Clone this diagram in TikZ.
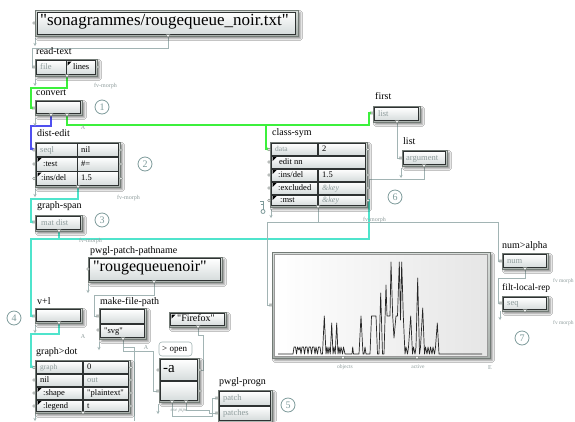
\documentclass[tikz,border=0pt]{standalone}
\usepackage{fontspec}
\setmainfont{Liberation Serif}[Ligatures=TeXOff]
\usetikzlibrary{shadows.blur,arrows.meta,calc}

\definecolor{frameA}{HTML}{D8DDDA}
\definecolor{frameB}{HTML}{A9B0AC}
\definecolor{frameedge}{HTML}{737B76}
\definecolor{cellbot}{HTML}{D6DCDC}
\definecolor{celledge}{HTML}{2E3232}
\definecolor{wire}{HTML}{A2B4B4}
\definecolor{wgreen}{HTML}{3CF03C}
\definecolor{wblue}{HTML}{5050F0}
\definecolor{wteal}{HTML}{4FE4CC}
\definecolor{numc}{HTML}{7E9B9B}
\definecolor{graytxt}{HTML}{8E9C9C}

\tikzset{
 outerbox/.style={top color=frameA, bottom color=frameB, draw=frameedge, line width=0.6pt,
   blur shadow={shadow xshift=2.5pt, shadow yshift=-2.5pt, shadow opacity=45, shadow blur steps=4}},
 cellbox/.style={draw=celledge, line width=0.5pt, top color=white, bottom color=cellbot},
 lab/.style={anchor=mid west, inner sep=0pt, font=\fontsize{10}{10}\selectfont},
 ctext/.style={anchor=mid west, inner sep=0pt, font=\fontsize{8.5}{8.5}\selectfont},
 gtext/.style={ctext, text=graytxt},
 fvm/.style={anchor=mid west, inner sep=0pt, font=\fontsize{6}{6}\selectfont, text=graytxt},
 amark/.style={anchor=center, inner sep=0pt, font=\fontsize{6}{6}\selectfont, text=graytxt},
 wg/.style={draw=wire, line width=0.8pt},
 wgr/.style={draw=wgreen, line width=1.2pt},
 wbl/.style={draw=wblue, line width=1.2pt},
 wtl/.style={draw=wteal, line width=1.2pt},
 arr/.style={-{Stealth[length=3pt,width=3pt]}},
 cnum/.style={circle, draw=numc, line width=0.8pt, minimum size=14pt, inner sep=0pt,
   text=numc, font=\fontsize{10}{10}\selectfont},
}
\newcommand\inl[2]{\draw[draw=frameedge, fill=white, line width=0.4pt] (#1,#2) circle (1.3);}
\newcommand\outl[2]{\draw[draw=frameedge, fill=white, line width=0.4pt] (#1-2,#2-1.5) -- (#1+2,#2-1.5) -- (#1,#2+1.5) -- cycle;}
\newcommand\ctri[2]{\fill (#1,#2) -- ++(4,0) -- ++(-4,4) -- cycle;}
\newcommand\showarr[3]{\draw[wg, arr] (#1,#2) -- (#1,#3);}

\begin{document}
\begin{tikzpicture}[x=1pt, y=-1pt]
\useasboundingbox (0,0) rectangle (575,421);
\clip (0,0) rectangle (575,421);
\fill[white] (0,0) rectangle (575,421);

% ---------- ports ----------
\coordinate (sona-o) at (168,37);
\coordinate (rt-in) at (35,67);
\coordinate (rt-o) at (67,77);
\coordinate (cv-in) at (35,108);
\coordinate (cv-o1) at (51,116);
\coordinate (cv-o2) at (67,116);
\coordinate (de-in) at (35,149);
\coordinate (fi-in) at (373,113);
\coordinate (gbr) at (266,125);
\coordinate (cs-in) at (270,149);
\coordinate (de-o) at (78,188);
\coordinate (gs-in) at (35,222);
\coordinate (gs-o) at (59,232);
\coordinate (cs-mst) at (367,200);
\coordinate (tj) at (31,239);
\coordinate (vl-in) at (35,316);
\coordinate (fi-o) at (397,123);
\coordinate (li-in) at (402,158);
\coordinate (li-o) at (424,167);
\coordinate (cs-exc) at (367,188);
\coordinate (cs-o) at (318,208);
\coordinate (ch-in) at (272,305);
\coordinate (na-in) at (502,261);
\coordinate (na-o) at (525,270);
\coordinate (fl-in) at (502,303);
\coordinate (pp-o) at (154,283);
\coordinate (mf-in) at (99,316);
\coordinate (vl-o) at (59,324);
\coordinate (gd-in) at (35,367);
\coordinate (mf-o) at (123,340);
\coordinate (mf-dn) at (134,421);
\coordinate (op-in2) at (159,391);
\coordinate (ff-o) at (198,328);
\coordinate (op-r1) at (199,370);
\coordinate (op-o1) at (172,403);
\coordinate (op-o2) at (186,403);
\coordinate (pg-in1) at (218,398);
\coordinate (pg-in2) at (218,413);

% ---------- wires ----------
\draw[wg, arr] (sona-o) -- ++(0,11) -| ([xshift=-3pt]rt-in) -- (rt-in);
\draw[wgr, arr] (rt-o) -- ++(0,11) -| ([xshift=-4pt]cv-in) -- (cv-in);
\draw[wbl, arr] (cv-o1) -- ++(0,10) -| ([xshift=-4pt]de-in) -- (de-in);
\draw[wgr, arr] (cv-o2) -- ++(0,9) -| ([xshift=-4pt]fi-in) -- (fi-in);
\draw[wgr, arr] (gbr) |- (cs-in);
\draw[wtl, arr] (de-o) -- ++(0,11) -| ([xshift=-4pt]gs-in) -- (gs-in);
\draw[wtl] (gs-o) -- (gs-o |- tj);
\draw[wtl, arr] (cs-mst) -- ++(2,0) |- (tj) |- (vl-in);
\draw[wg, arr] (fi-o) |- (li-in);
\draw[wg] (li-o) -- ++(0,12) -| ([xshift=2pt]cs-exc) -- (cs-exc);
\draw[wg, arr] (cs-o) -- ++(0,14) -| ([xshift=-5pt]ch-in) -- (ch-in);
\draw[wg, arr] (cs-o) -- ++(0,14) -| ([xshift=-4pt]na-in) -- (na-in);
\draw[wg, arr] (na-o) -- ++(0,8) -| ([xshift=-4pt]fl-in) -- (fl-in);
\draw[wg, arr] (pp-o) -- ++(0,12) -| ([xshift=-5pt]mf-in) -- (mf-in);
\draw[wtl, arr] (vl-o) -- ++(0,10) -| ([xshift=-4pt]gd-in) -- (gd-in);
\draw[wg, arr] (mf-o) -- ++(0,11) -| ([xshift=-6pt]op-in2) -- (op-in2);
\draw[wg] (mf-o) -- ++(0,7) -| (mf-dn);
\draw[wg] (ff-o) -- ++(0,7) -| ([xshift=4pt]op-r1) -- (op-r1);
\draw[wg, arr] (op-o1) -- ++(0,13) -| ([xshift=-6pt]pg-in1) -- (pg-in1);
\draw[wg, arr] (op-o2) -- ++(0,7) -| ([xshift=-9pt]pg-in2) -- (pg-in2);

% show arrows
\showarr{35}{38}{46}
\showarr{35}{79}{86}
\showarr{35}{118}{126}
\showarr{35}{189}{197}
\showarr{271}{209}{218}
\showarr{401}{168}{178}
\showarr{500}{311}{320}
\showarr{88}{284}{293}
\showarr{35}{325}{333}
\showarr{99}{342}{350}
\showarr{158}{404}{414}
\showarr{35}{414}{421}

% ---------- sonagrammes box ----------
\path[outerbox] (35,10) rectangle (298,36);
\path[cellbox] (37,12) rectangle (295.5,34);
\node[anchor=mid west, inner sep=0pt, font=\fontsize{17}{17}\selectfont] (sona) at (40,23) {"sonagrammes/rougequeue\_noir.txt"};
\inl{34}{23} \outl{168}{36}

% ---------- read-text ----------
\node[lab] (l-rt) at (36,52) {read-text};
\path[outerbox] (35,59) rectangle (97,76);
\path[cellbox] (36.5,60.5) rectangle (66,74.5);
\path[cellbox] (66.5,60.5) rectangle (95.5,74.5);
\node[gtext] at (40,67.5) {file};
\ctri{67.5}{61.5}
\node[ctext] at (73,67.5) {lines};
\inl{34}{67} \inl{98}{67} \outl{67}{76}
\node[fvm] at (94,85) {fv-morph};

% ---------- convert ----------
\node[lab] (l-cv) at (36,93) {convert};
\path[outerbox] (35,100) rectangle (82,115);
\path[cellbox] (36.5,101.5) rectangle (80.5,113.5);
\inl{34}{108} \outl{51}{115} \outl{67}{115}
\node[amark] at (83,128) {A};
\node[cnum] at (102,107) {1};

% ---------- dist-edit ----------
\node[lab] (l-de) at (37,134) {dist-edit};
\path[outerbox] (35,142) rectangle (120,187);
\foreach \ya/\yb in {143.5/156.5, 157/171, 171.5/185.5}{
  \path[cellbox] (36.5,\ya) rectangle (77,\yb);
  \path[cellbox] (77.5,\ya) rectangle (118.5,\yb);
}
\node[gtext] at (40,150) {seql};
\node[ctext] at (81,150) {nil};
\ctri{37.5}{158} \node[ctext] at (43,164) {:test};
\node[ctext] at (81,164) {\#=};
\ctri{37.5}{172.5} \node[ctext] at (41,178.5) {:ins/del};
\node[ctext] at (81,178.5) {1.5};
\inl{34}{150} \inl{34}{164} \inl{34}{178.5}
\inl{121}{150} \inl{121}{164} \inl{121}{178.5}
\outl{78}{187}
\node[fvm] at (117,197) {fv-morph};
\node[cnum] at (145,164) {2};

% ---------- graph-span ----------
\node[lab] (l-gs) at (37,206) {graph-span};
\path[outerbox] (35,215) rectangle (82,231);
\path[cellbox] (36.5,216.5) rectangle (80.5,229.5);
\node[gtext] at (41,223) {mat dist};
\inl{34}{222} \outl{59}{231}
\node[fvm] at (79,240) {fv-morph};
\node[cnum] at (102,220) {3};

% ---------- first / list ----------
\node[lab] (l-fi) at (375,97) {first};
\path[outerbox] (373,106) rectangle (420,122);
\path[cellbox] (374.5,107.5) rectangle (418.5,120.5);
\node[gtext] at (378,114) {list};
\inl{372}{113} \outl{397}{122}

\node[lab] (l-li) at (403,142) {list};
\path[outerbox] (402,150) rectangle (447,166);
\path[cellbox] (403.5,151.5) rectangle (445.5,164.5);
\node[gtext] at (406,158) {argument};
\inl{401}{158} \outl{424}{166}

% ---------- class-sym ----------
\node[lab] (l-cs) at (272,133) {class-sym};
\path[outerbox] (270,142) rectangle (367,207);
\foreach \ya/\yb in {143.5/155, 169/181, 182/194, 195/205.5}{
  \path[cellbox] (271.5,\ya) rectangle (317.5,\yb);
  \path[cellbox] (318.5,\ya) rectangle (365.5,\yb);
}
\path[cellbox] (271.5,156) rectangle (365.5,168);
\node[gtext, font=\fontsize{7.5}{7.5}\selectfont] at (275,149.5) {data};
\node[ctext] at (322,149.5) {2};
\ctri{272.5}{157} \node[ctext] at (279,162) {edit nn};
\ctri{272.5}{170} \node[ctext] at (278,175) {:ins/del};
\node[ctext] at (322,175) {1.5};
\ctri{272.5}{183} \node[ctext] at (278,188) {:excluded};
\node[gtext, font=\fontsize{8}{8}\itshape] at (322,188) {\&key};
\ctri{272.5}{196} \node[ctext] at (280,200.5) {:mst};
\node[gtext, font=\fontsize{8}{8}\itshape] at (322,200.5) {\&key};
\foreach \y in {149.5,162,175,188,200.5}{\inl{269}{\y}}
\foreach \y in {149.5,175,188,200.5}{\inl{368}{\y}}
\outl{318}{207}
\node[fvm] at (363,219) {fv-morph};
\node[cnum] at (395,197) {6};
% key icon
\begin{scope}[draw=numc, line width=0.8pt]
\draw (263,201) -- (263,209.5);
\draw (260,201) -- (263,201);
\draw (261,204.5) -- (263,204.5);
\draw (263,211.5) circle (2);
\end{scope}

% ---------- chart ----------
\path[outerbox] (272,252) rectangle (490,358);
\path[left color=white, right color=black!10, draw=black!40, line width=0.5pt] (274,254) rectangle (487.5,356);
\draw[black!85, line width=0.7pt, line join=round] (278,354) -- (293,354)
 -- (294,347) -- (295.5,347) -- (296.5,354) -- (297.5,347) -- (299,350) -- (300,347) -- (301,354) -- (302,347) -- (303.5,347) -- (304.5,354) -- (305.5,347) -- (307,347) -- (308,354) -- (309,347) -- (310.5,347) -- (311.5,354) -- (312.5,347) -- (314,347) -- (315,354) -- (316,347) -- (317.5,354) -- (318.5,347) -- (320,347) -- (321,354) -- (322.5,354)
 -- (324.3,316) -- (326,354) -- (327,347) -- (328,354) -- (329,347) -- (330.3,354)
 -- (331.7,323) -- (333,354) -- (334,347) -- (335.2,354)
 -- (336.7,323) -- (338,354) -- (339,347) -- (340,354) -- (341,347) -- (342.5,354) -- (343.5,347) -- (345,354)
 -- (352,354) -- (352.7,347) -- (353.5,354) -- (359,354) -- (361,316) -- (363,354) -- (364,354) -- (365,347) -- (366,354) -- (370,354)
 -- (371.5,316) -- (376,316) -- (377.5,354) -- (379,354) -- (380.7,293) -- (382.5,354) -- (384,354) -- (386,285) -- (387,316) -- (390,316) -- (391,262) -- (392.7,316) -- (394,338) -- (396,316) -- (397.5,316) -- (399.3,262) -- (400.5,320) -- (401.7,262) -- (403.3,316) -- (405,354)
 -- (406,347) -- (407.5,354) -- (408.5,347) -- (410.7,316) -- (412.5,354) -- (413.5,347) -- (415,354) -- (416,347) -- (417.7,278) -- (419.5,354) -- (420.5,347) -- (422.7,308) -- (424.5,354) -- (425.5,347) -- (427,354) -- (428,347) -- (429.5,354) -- (430.5,347) -- (432,354) -- (433,347) -- (434.5,354) -- (435.5,347) -- (437.3,323) -- (439,354) -- (482,354);
\inl{271}{305}
\outl{343}{358} \outl{417}{358}
\node[fvm, anchor=center, font=\fontsize{5.5}{5.5}\selectfont] at (345,367) {objects};
\node[fvm, anchor=center, font=\fontsize{5.5}{5.5}\selectfont] at (418,367) {active};
\node[amark] at (490,368) {E};

% ---------- num>alpha / filt-local-rep ----------
\node[lab] (l-na) at (502,246) {num>alpha};
\path[outerbox] (502,253) rectangle (548,269);
\path[cellbox] (503.5,254.5) rectangle (546.5,267.5);
\node[gtext] at (507,261) {num};
\inl{501}{261} \outl{525}{269}
\node[fvm, font=\fontsize{5.5}{5.5}\selectfont] at (553,280) {fv morph};

\node[lab, font=\fontsize{9.5}{9.5}\selectfont] (l-fl) at (502,288.5) {filt-local-rep};
\path[outerbox] (502,296) rectangle (548,311);
\path[cellbox] (503.5,297.5) rectangle (546.5,309.5);
\node[gtext] at (507,303.5) {seq};
\inl{501}{303} \outl{525}{311}
\node[fvm, font=\fontsize{5.5}{5.5}\selectfont] at (553,322) {fv morph};
\node[cnum] at (522,338) {7};

% ---------- pwgl-patch-pathname ----------
\node[lab] (l-pp) at (90,251) {pwgl-patch-pathname};
\path[outerbox] (88,257) rectangle (222,282);
\path[cellbox] (89.5,258.5) rectangle (220,280);
\node[anchor=mid west, inner sep=0pt, font=\fontsize{16}{16}\selectfont] (rq) at (93,269) {"rougequeuenoir"};
\inl{88}{269} \outl{154}{282}

% ---------- v+l ----------
\node[lab] (l-vl) at (37,302) {v+l};
\path[outerbox] (35,308) rectangle (82,323);
\path[cellbox] (36.5,309.5) rectangle (80.5,321.5);
\inl{34}{316} \outl{59}{323}
\node[amark] at (83,337) {A};
\node[cnum] at (14,318) {4};

% ---------- make-file-path ----------
\node[lab] (l-mf) at (100,302) {make-file-path};
\path[outerbox] (99,308) rectangle (146,339);
\path[cellbox] (100.5,309.5) rectangle (144.5,323);
\path[cellbox] (100.5,324) rectangle (144.5,337.5);
\node[ctext] at (104,331) {"svg"};
\inl{98}{316} \inl{98}{330} \outl{123}{339}
\node[amark] at (146,348) {A};

% ---------- Firefox ----------
\path[outerbox] (169,312) rectangle (226,327);
\path[cellbox] (170.5,313.5) rectangle (224.5,325.5);
\ctri{171.5}{314.5}
\node[anchor=mid west, inner sep=0pt, font=\fontsize{10}{10}\selectfont] (ff) at (177,319.5) {"Firefox"};
\outl{198}{327}

% ---------- open ----------
\draw[draw=wire, fill=white, rounded corners=3pt, line width=0.6pt] (159,342) rectangle (192,356);
\node[anchor=mid west, inner sep=0pt, font=\fontsize{9}{9}\selectfont] at (162,349) {> open};
\path[outerbox] (159,358) rectangle (199,402);
\path[cellbox] (160.5,359.5) rectangle (197.5,380);
\path[cellbox] (160.5,381) rectangle (197.5,400.5);
\node[anchor=mid west, inner sep=0pt, font=\fontsize{15}{15}\selectfont] (dasha) at (163,370) {-a};
\inl{158}{370} \inl{158}{391} \inl{200}{370} \inl{200}{391}
\outl{172}{402} \outl{186}{402}
\node[fvm, anchor=center, font=\fontsize{5}{5}\itshape] at (179,410) {exe pipe};

% ---------- graph>dot ----------
\node[lab] (l-gd) at (36,352) {graph>dot};
\path[outerbox] (35,360) rectangle (130,413);
\foreach \ya/\yb in {361.5/373, 374/386, 387/399, 400/411.5}{
  \path[cellbox] (36.5,\ya) rectangle (82.5,\yb);
  \path[cellbox] (83.5,\ya) rectangle (128.5,\yb);
}
\node[gtext, font=\fontsize{7.5}{7.5}\selectfont] at (40,367.5) {graph};
\node[ctext] at (87,367.5) {0};
\node[ctext] at (40,380) {nil};
\node[gtext] at (87,380) {out};
\ctri{37.5}{388} \node[ctext] at (43,393) {:shape};
\node[ctext] at (87,393) {"plaintext"};
\ctri{37.5}{401} \node[ctext] at (43,406) {:legend};
\node[ctext] at (87,406) {t};
\foreach \y in {367.5,380,393,406}{\inl{34}{\y} \inl{131}{\y}}
\outl{83}{413}

% ---------- pwgl-progn ----------
\node[lab] (l-pg) at (219,382) {pwgl-progn};
\path[outerbox] (218,390) rectangle (272,425);
\path[cellbox] (219.5,391.5) rectangle (270.5,405);
\path[cellbox] (219.5,406) rectangle (270.5,420);
\node[gtext] at (223,398) {patch};
\node[gtext] at (223,413) {patches};
\inl{217}{398} \inl{217}{413}
\node[cnum] at (288,405) {5};
\end{tikzpicture}
\end{document}
